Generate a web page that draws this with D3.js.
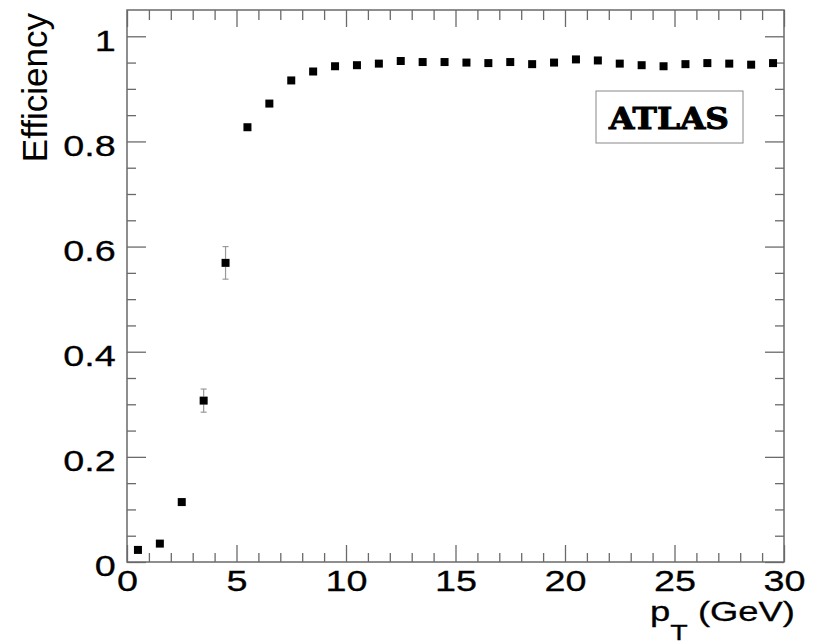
<!DOCTYPE html>
<html>
<head>
<meta charset="utf-8">
<script src="https://cdn.jsdelivr.net/npm/d3@7"></script>
<style>
  body { margin: 0; background: #fff; }
  svg { display: block; }
</style>
</head>
<body>
<div id="chart"></div>
<script>
// Efficiency vs pT, bin centres in GeV
const ptBins = [0.5, 1.5, 2.5, 3.5, 4.5, 5.5, 6.5, 7.5, 8.5, 9.5,
  10.5, 11.5, 12.5, 13.5, 14.5, 15.5, 16.5, 17.5, 18.5, 19.5,
  20.5, 21.5, 22.5, 23.5, 24.5, 25.5, 26.5, 27.5, 28.5, 29.5];
const efficiency = [0.023, 0.035, 0.114, 0.307, 0.569, 0.827, 0.872, 0.916, 0.933, 0.943,
  0.945, 0.948, 0.953, 0.951, 0.951, 0.950, 0.949, 0.951, 0.947, 0.950,
  0.956, 0.954, 0.948, 0.945, 0.943, 0.947, 0.949, 0.948, 0.946, 0.949];
const errors = [0.003, 0.004, 0.006, 0.022, 0.031, 0.006, 0.005, 0.004, 0.004, 0.003,
  0.003, 0.003, 0.003, 0.003, 0.003, 0.003, 0.003, 0.003, 0.003, 0.003,
  0.003, 0.003, 0.003, 0.003, 0.003, 0.003, 0.003, 0.003, 0.003, 0.003];
const xMajor = [0, 5, 10, 15, 20, 25, 30];
const yMajor = [0, 0.2, 0.4, 0.6, 0.8, 1];
const yLabels = ["0", "0.2", "0.4", "0.6", "0.8", "1"];

const W = 832, H = 643;
const frame = { left: 127, right: 784, top: 10, bottom: 562 };
const axisColor = "#6a6a6a";
const font = "'Liberation Sans', Arial, Helvetica, sans-serif";

const svg = d3.select("#chart").append("svg")
  .attr("width", W).attr("height", H);

const x = d3.scaleLinear().domain([0, 30]).range([frame.left, frame.right]);
const y = d3.scaleLinear().domain([0, 1.05]).range([frame.bottom, frame.top]);

const xMinor = d3.range(0, 31, 1).filter(v => v % 5 !== 0);
const yMinor = d3.range(1, 21).map(i => i * 0.05).filter(v => Math.abs(v * 5 - Math.round(v * 5)) > 1e-6);

function styleAxis(g) {
  g.select(".domain").remove();
  g.selectAll(".tick line").attr("stroke", axisColor).attr("stroke-width", 1.3);
}

// minor ticks (no labels)
svg.append("g").attr("transform", `translate(0,${frame.bottom})`)
  .call(d3.axisBottom(x).tickValues(xMinor).tickSize(-9).tickFormat(""))
  .call(styleAxis);
svg.append("g").attr("transform", `translate(0,${frame.top})`)
  .call(d3.axisTop(x).tickValues(xMinor).tickSize(-10).tickFormat(""))
  .call(styleAxis);
svg.append("g").attr("transform", `translate(${frame.left},0)`)
  .call(d3.axisLeft(y).tickValues(yMinor).tickSize(-9).tickFormat(""))
  .call(styleAxis);
svg.append("g").attr("transform", `translate(${frame.right},0)`)
  .call(d3.axisRight(y).tickValues(yMinor).tickSize(-9).tickFormat(""))
  .call(styleAxis);

// major ticks
const xAxis = svg.append("g").attr("transform", `translate(0,${frame.bottom})`)
  .call(d3.axisBottom(x).tickValues(xMajor).tickSize(-17).tickPadding(8).tickFormat(d3.format("d")))
  .call(styleAxis);
xAxis.selectAll(".tick text")
  .attr("font-family", font).attr("font-size", 30).attr("fill", "#000")
  .attr("stroke", "#000").attr("stroke-width", 0.3)
  .attr("transform", "scale(1.26,1)");

const yAxis = svg.append("g").attr("transform", `translate(${frame.left},0)`)
  .call(d3.axisLeft(y).tickValues(yMajor).tickSize(-19).tickPadding(9)
    .tickFormat((d, i) => yLabels[i]))
  .call(styleAxis);
yAxis.selectAll(".tick text")
  .attr("font-family", font).attr("font-size", 30).attr("fill", "#000")
  .attr("stroke", "#000").attr("stroke-width", 0.3)
  .attr("dy", "0.46em")
  .attr("transform", "scale(1.26,1)");

svg.append("g").attr("transform", `translate(0,${frame.top})`)
  .call(d3.axisTop(x).tickValues(xMajor).tickSize(-17).tickFormat(""))
  .call(styleAxis);
svg.append("g").attr("transform", `translate(${frame.right},0)`)
  .call(d3.axisRight(y).tickValues(yMajor).tickSize(-19).tickFormat(""))
  .call(styleAxis);

// frame
svg.append("rect")
  .attr("x", frame.left).attr("y", frame.top)
  .attr("width", frame.right - frame.left).attr("height", frame.bottom - frame.top)
  .attr("fill", "none").attr("stroke", axisColor).attr("stroke-width", 1.5);

// error bars, drawn only outside the marker
const half = 4;
const pts = ptBins.map((p, i) => ({ p, v: efficiency[i], e: errors[i] }));
const bars = svg.append("g").attr("stroke", "#999").attr("stroke-width", 1.2);
pts.forEach(d => {
  const cx = x(d.p), cy = y(d.v);
  const top = y(d.v + d.e), bot = y(d.v - d.e);
  if (cy - top > half + 1) {
    bars.append("line").attr("x1", cx).attr("x2", cx).attr("y1", top).attr("y2", cy - half);
    bars.append("line").attr("x1", cx - 3).attr("x2", cx + 3).attr("y1", top).attr("y2", top);
    bars.append("line").attr("x1", cx).attr("x2", cx).attr("y1", cy + half).attr("y2", bot);
    bars.append("line").attr("x1", cx - 3).attr("x2", cx + 3).attr("y1", bot).attr("y2", bot);
  }
});

// markers
svg.append("g").selectAll("rect")
  .data(pts)
  .enter()
  .append("rect")
  .attr("x", d => x(d.p) - half)
  .attr("y", d => y(d.v) - half)
  .attr("width", half * 2)
  .attr("height", half * 2)
  .attr("fill", "#000");

// axis titles
svg.append("text")
  .attr("transform", "translate(47,13) rotate(-90)")
  .attr("text-anchor", "end")
  .attr("font-family", font).attr("font-size", 35)
  .text("Efficiency");

const xt = svg.append("text")
  .attr("transform", "translate(795,621) scale(1.3,1)")
  .attr("text-anchor", "end")
  .attr("font-family", font).attr("font-size", 28)
  .attr("stroke", "#000").attr("stroke-width", 0.3);
xt.append("tspan").text("p");
xt.append("tspan").attr("font-size", 22).attr("dy", 19).text("T");
xt.append("tspan").attr("dy", -19).text(" (GeV)");

// ATLAS label
svg.append("rect")
  .attr("x", 596).attr("y", 91).attr("width", 147).attr("height", 52)
  .attr("fill", "#fff").attr("stroke", "#888").attr("stroke-width", 1);
svg.append("text")
  .attr("x", 669).attr("y", 129)
  .attr("text-anchor", "middle")
  .attr("font-family", "'DejaVu Serif', serif").attr("font-weight", "bold")
  .attr("font-size", 30)
  .attr("stroke", "#000").attr("stroke-width", 1)
  .attr("textLength", 120).attr("lengthAdjust", "spacingAndGlyphs")
  .text("ATLAS");
</script>
</body>
</html>
